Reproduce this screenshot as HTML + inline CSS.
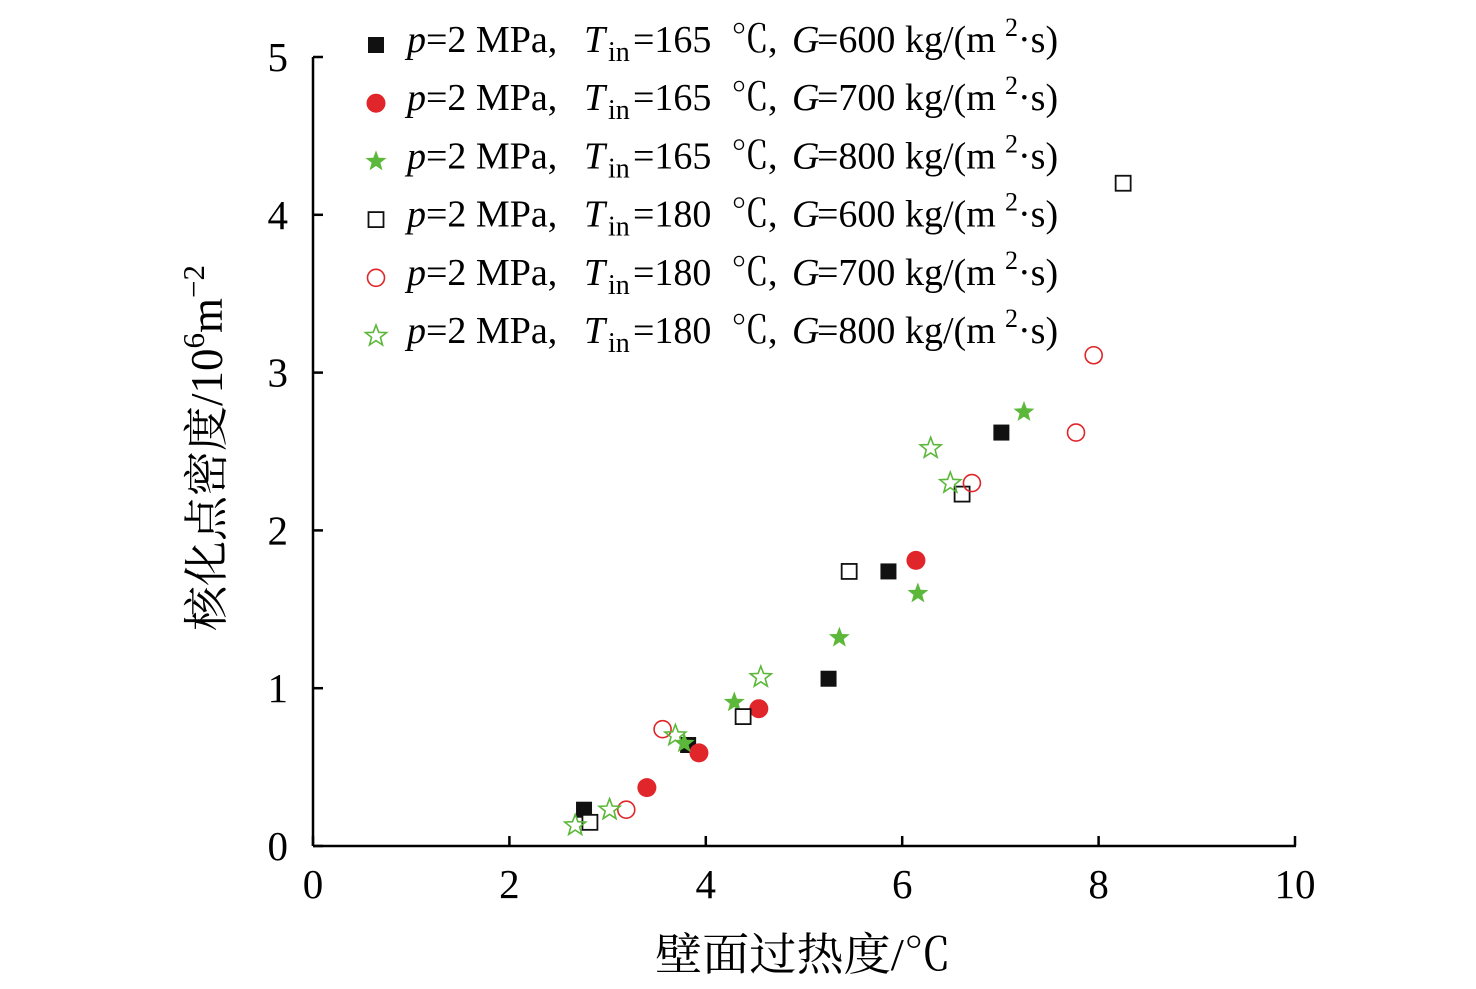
<!DOCTYPE html>
<html><head><meta charset="utf-8"><style>
body{margin:0;background:#fff}
svg text{font-family:"Liberation Serif","Noto Serif CJK SC",serif}
</style></head><body>
<svg id="c" width="1476" height="984" xmlns="http://www.w3.org/2000/svg"></svg>
<script>
const xTicks=[0,2,4,6,8,10];
const yTicks=[0,1,2,3,4,5];
const s1x=[2.76,3.82,5.25,5.86,7.01], s1y=[0.23,0.64,1.06,1.74,2.62];
const s2x=[3.40,3.93,4.54,6.14], s2y=[0.37,0.59,0.87,1.81];
const s3x=[3.78,4.29,5.36,6.16,7.24], s3y=[0.65,0.91,1.32,1.60,2.75];
const s4x=[2.82,4.38,5.46,6.61,8.25], s4y=[0.15,0.82,1.74,2.23,4.20];
const s5x=[3.19,3.56,6.71,7.77,7.95], s5y=[0.23,0.74,2.30,2.62,3.11];
const s6x=[2.67,3.02,3.69,4.56,6.29,6.49], s6y=[0.13,0.23,0.70,1.07,2.52,2.30];
const temps=["165","165","165","180","180","180"];
const flows=["600","700","800","600","700","800"];
const NS="http://www.w3.org/2000/svg";
const svg=document.getElementById('c');
const X=v=>313+v*98.2, Y=v=>846-v*157.8;
function el(t,a,p){const e=document.createElementNS(NS,t);for(const k in a)e.setAttribute(k,a[k]);(p||svg).appendChild(e);return e;}
const ax=el('g',{});


el('line',{x1:X(0),y1:Y(0),x2:X(10)+1,y2:Y(0),stroke:'#000','stroke-width':2.5},ax);
el('line',{x1:X(0),y1:Y(0),x2:X(0),y2:Y(5),stroke:'#000','stroke-width':2.5},ax);
xTicks.forEach(v=>{el('line',{x1:X(v),y1:Y(0),x2:X(v),y2:Y(0)-10,stroke:'#000','stroke-width':2.5},ax);
const t=el('text',{x:X(v),y:898,'text-anchor':'middle','font-size':41},ax);t.textContent=v;
});
yTicks.forEach(v=>{el('line',{x1:X(0),y1:Y(v),x2:X(0)+10,y2:Y(v),stroke:'#000','stroke-width':2.5},ax);
const t=el('text',{x:288,y:Y(v)+14,'text-anchor':'end','font-size':41},ax);t.textContent=v;
});
const xt=el('text',{x:803,y:970,'text-anchor':'middle','font-size':45,textLength:296,lengthAdjust:'spacingAndGlyphs'});xt.textContent='壁面过热度/℃';

const yt=el('text',{x:0,y:0,'text-anchor':'middle','font-size':45,transform:'translate(222,448) rotate(-90)'});
yt.innerHTML='核化点密度/10<tspan dy="-18" font-size="31">6</tspan><tspan dy="18">m</tspan><tspan dy="-18" font-size="31">−2</tspan>';

function star(cx,cy,r){let p=[];for(let i=0;i<10;i++){const a=-Math.PI/2+i*Math.PI/5,rr=i%2?r*0.42:r;p.push((cx+rr*Math.cos(a)).toFixed(1)+','+(cy+rr*Math.sin(a)).toFixed(1));}return p.join(' ');}
function marker(k,cx,cy,g){
 if(k==0)return el('rect',{x:cx-8,y:cy-8,width:16,height:16,fill:'#111'},g);
 if(k==1)return el('circle',{cx,cy,r:9.5,fill:'#e0262b'},g);
 if(k==2)return el('polygon',{points:star(cx,cy,11),fill:'#5cb83a'},g);
 if(k==3)return el('rect',{x:cx-7.5,y:cy-7.5,width:15,height:15,fill:'#fff',stroke:'#111','stroke-width':1.8},g);
 if(k==4)return el('circle',{cx,cy,r:8.5,fill:'none',stroke:'#e0262b','stroke-width':1.6},g);
 return el('polygon',{points:star(cx,cy,11),fill:'none',stroke:'#5cb83a','stroke-width':1.6},g);
}
const series=[[s1x,s1y],[s2x,s2y],[s3x,s3y],[s4x,s4y],[s5x,s5y],[s6x,s6y]];
series.forEach((s,k)=>{const g=el('g',{});

s[0].forEach((v,i)=>{const m=marker(k,X(v),Y(s[1][i]),g);
});});
const lg=el('g',{});

for(let k=0;k<6;k++){const cy=45+k*58.2;const e=el('g',{},lg);

marker(k,376,cy,e);
const t=el('text',{x:407,y:cy+7,'font-size':38},e);
t.innerHTML='<tspan font-style="italic">p</tspan>=2 MPa,<tspan x="584" font-style="italic">T</tspan><tspan x="608" dy="9" font-size="28">in</tspan><tspan x="633" dy="-9">='+temps[k]+'</tspan><tspan x="731">℃</tspan><tspan x="768">,</tspan><tspan x="792" font-style="italic">G</tspan><tspan x="817">='+flows[k]+'</tspan><tspan x="905">kg/(m</tspan><tspan x="1005" dy="-16" font-size="26">2</tspan><tspan x="1018" dy="16">·s)</tspan>';}
</script>
</body></html>
